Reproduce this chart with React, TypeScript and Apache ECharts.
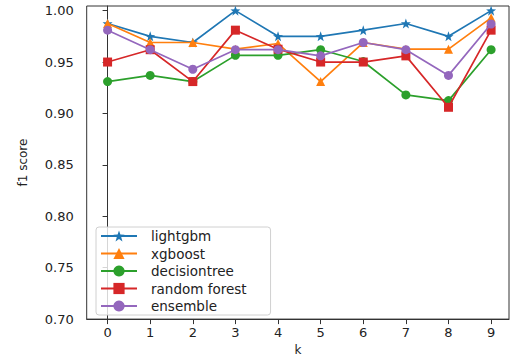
import React, { useEffect, useRef } from "react";
import * as echarts from "echarts";

const ks = [0, 1, 2, 3, 4, 5, 6, 7, 8, 9];
const yTicks = [0.7, 0.75, 0.8, 0.85, 0.9, 0.95, 1.0];
const lightgbm = [0.9875, 0.975, 0.969, 1.0, 0.975, 0.975, 0.981, 0.9875, 0.975, 1.0];
const xgboost = [0.9875, 0.969, 0.969, 0.9625, 0.968, 0.931, 0.969, 0.9625, 0.9625, 0.993];
const decisiontree = [0.931, 0.937, 0.931, 0.9565, 0.9565, 0.962, 0.9505, 0.918, 0.9125, 0.962];
const randomForest = [0.95, 0.962, 0.931, 0.981, 0.9625, 0.95, 0.95, 0.956, 0.906, 0.981];
const ensemble = [0.981, 0.962, 0.943, 0.962, 0.962, 0.956, 0.969, 0.962, 0.937, 0.987];

const names = ["lightgbm", "xgboost", "decisiontree", "random forest", "ensemble"];
const colors = ["#1f77b4", "#ff7f0e", "#2ca02c", "#d62728", "#9467bd"];
const STAR =
  "path://M0,-10L2.35,-3.24L9.51,-3.09L3.8,1.24L5.88,8.09L0,4L-5.88,8.09L-3.8,1.24L-9.51,-3.09L-2.35,-3.24Z";
const symbols = [STAR, "triangle", "circle", "rect", "circle"];
const sizes = [10, 9, 9, 9, 9];
const allSeries = [lightgbm, xgboost, decisiontree, randomForest, ensemble];

export default function App() {
  const ref = useRef<HTMLDivElement>(null);
  useEffect(() => {
    if (!ref.current) return;
    const chart = echarts.init(ref.current, null, { renderer: "svg" });
    const font = "DejaVu Sans";
    chart.setOption({
      animation: false,
      backgroundColor: "#fff",
      grid: {
        left: 86.7,
        right: 1,
        top: 6,
        bottom: 38.3,
        show: true,
        borderColor: "#333",
        borderWidth: 1,
      },
      legend: {
        orient: "vertical",
        left: 96,
        top: 227,
        padding: [2, 24, 2, 4],
        itemWidth: 36,
        itemHeight: 14,
        itemGap: 3.5,
        borderColor: "#d0d0d0",
        borderWidth: 1,
        borderRadius: 3,
        backgroundColor: "rgba(255,255,255,0.8)",
        textStyle: { fontFamily: font, fontSize: 13.5, color: "#222", padding: [0, 0, 0, 9] },
        data: names,
      },
      xAxis: {
        type: "value",
        min: -0.49,
        max: 9.42,
        name: "k",
        nameLocation: "middle",
        nameGap: 22,
        nameTextStyle: { fontFamily: font, fontSize: 12, color: "#222" },
        axisLine: { show: true, lineStyle: { color: "#333", width: 1 } },
        axisTick: { show: true, length: 5, customValues: ks, lineStyle: { color: "#333" } },
        axisLabel: {
          customValues: ks,
          margin: 7,
          fontFamily: font,
          fontSize: 13,
          color: "#222",
          formatter: (v: number) => String(Math.round(v)),
        },
        splitLine: { show: false },
      },
      yAxis: {
        type: "value",
        min: 0.7,
        max: 1.0045,
        name: "f1 score",
        nameLocation: "middle",
        nameGap: 58,
        nameRotate: 90,
        nameTextStyle: { fontFamily: font, fontSize: 12, color: "#222" },
        axisLine: { show: true, lineStyle: { color: "#333", width: 1 } },
        axisTick: { show: true, length: 5, customValues: yTicks, lineStyle: { color: "#333" } },
        axisLabel: {
          customValues: yTicks,
          margin: 13,
          fontFamily: font,
          fontSize: 13,
          color: "#222",
          formatter: (v: number) => v.toFixed(2),
        },
        splitLine: { show: false },
      },
      series: allSeries.map((vals, i) => ({
        name: names[i],
        type: "line",
        data: vals.map((v, j) => [ks[j], v]),
        symbol: symbols[i],
        symbolSize: sizes[i],
        showAllSymbol: true,
        lineStyle: { color: colors[i], width: 1.7 },
        itemStyle: { color: colors[i] },
        z: 2 + i,
      })),
    });
    return () => chart.dispose();
  }, []);
  return (
    <div
      ref={ref}
      style={{ position: "fixed", left: 0, top: 0, width: 510, height: 361 }}
    />
  );
}
